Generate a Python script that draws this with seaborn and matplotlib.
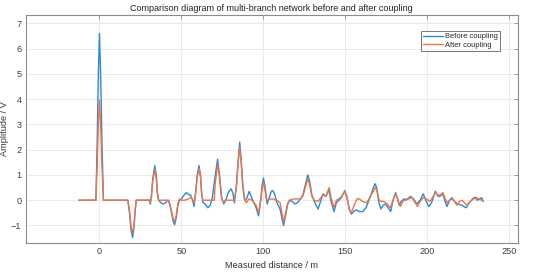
import numpy as np
import pandas as pd
import seaborn as sns
import matplotlib
matplotlib.use("Agg")
import matplotlib.pyplot as plt

# ---------------- data ----------------
before_x = [-12.5, -2.2, -1.4, -0.7, 0, 0.7, 1.5, 2.4, 17.3, 18.3, 19.3, 20.2, 21.0, 21.8, 22.4,
            30.6, 31.0, 31.6, 32.4, 33.7, 34.6, 35.3, 36.0, 37.5, 39.0, 40.5, 41.5, 42.3, 43.5,
            44.8, 45.8, 46.8, 47.8, 48.8, 50.0, 51.5, 53.0, 54.5, 55.6, 56.8, 57.7, 58.6, 59.6,
            60.7, 61.6, 62.4, 63.1, 64.5, 66.1, 67.5, 68.8, 70.2, 72.0, 73.2, 74.5, 75.8, 77.0,
            78.5, 80.2, 81.3, 82.3, 83.5, 84.6, 85.5, 86.4, 87.4, 88.5, 89.6, 91.3, 92.5, 93.8,
            95.5, 97.0, 98.3, 99.2, 100.0, 100.9, 102.2, 103.5, 104.8, 105.8, 107.0, 108.2,
            110.1, 111.2, 112.3, 113.5, 114.8, 116.0, 117.5, 119.2, 120.8, 122.5, 124.0, 125.5,
            127.0, 128.2, 129.5, 131.0, 133.3, 134.8, 136.3, 138.0, 139.2, 139.9, 141.0, 143.0,
            144.5, 146.0, 147.5, 149.6, 151.0, 152.3, 153.6, 155.0, 156.5, 158.5, 160.5, 162.5,
            164.0, 165.5, 167.0, 168.0, 169.0, 170.2, 171.6, 173.0, 174.5, 176.0, 177.6, 179.0,
            180.6, 182.0, 182.7, 184.0, 185.5, 187.0, 189.7, 191.5, 193.5, 195.5, 197.4, 199.0,
            200.8, 202.5, 204.8, 206.5, 207.5, 209.3, 210.5, 211.9, 213.5, 214.9, 216.5, 218.5,
            221.0, 223.6, 225.5, 227.5, 228.9, 230.5, 232.0, 233.0, 234.0]
before_y = [0, 0, 2.3, 5.0, 6.6, 5.0, 2.3, 0, 0, -0.5, -1.2, -1.48, -1.1, -0.4, 0,
            0, -0.15, 0.1, 0.8, 1.37, 1.0, 0.3, 0, -0.1, -0.15, -0.1, 0.0, -0.05, -0.35,
            -0.8, -0.97, -0.7, -0.2, 0.0, 0.05, 0.2, 0.3, 0.22, 0.2, 0.0, -0.25, 0.3, 1.0,
            1.37, 1.0, 0.2, -0.1, -0.15, -0.3, -0.2, 0.1, 0.8, 1.62, 1.0, 0.1, -0.15, 0.0,
            0.3, 0.45, 0.3, -0.1, 0.6, 1.6, 2.3, 1.6, 0.6, 0.0, 0.05, 0.35, 0.15, -0.05,
            -0.3, -0.62, 0.0, 0.6, 0.88, 0.55, -0.15, 0.1, 0.35, 0.38, 0.2, -0.1,
            -0.35, -0.7, -1.0, -0.6, -0.15, 0.0, -0.05, -0.15, -0.1, 0.05, 0.2, 0.6,
            1.0, 0.75, 0.2, -0.05, -0.35, -0.05, 0.25, 0.15, 0.3, 0.45, 0.0, -0.45,
            -0.1, 0.0, 0.1, 0.38, 0.1, -0.35, -0.55, -0.45, -0.38, -0.45, -0.45, -0.3,
            -0.05, 0.2, 0.5, 0.65, 0.5, -0.05, -0.35, -0.2, -0.15, -0.3, -0.45, 0.0,
            0.3, 0.0, -0.2, -0.05, 0.05, 0.0, 0.15, 0.05, -0.15, 0.0, 0.25, 0.0,
            -0.25, -0.1, 0.35, 0.15, 0.15, 0.25, 0.0, -0.25, 0.0, 0.1, -0.05, -0.15,
            -0.2, -0.3, -0.1, 0.05, 0.12, 0.0, 0.05, 0.1, -0.05]

after_x = [-12.5, -2.2, -1.4, -0.7, 0, 0.7, 1.5, 2.4, 17.3, 18.3, 19.3, 20.2, 21.0, 21.8, 22.4,
           30.6, 31.0, 31.6, 32.4, 33.7, 34.6, 35.3, 36.0, 42.3, 43.5, 44.8, 45.8, 46.8, 47.8,
           48.8, 50.0, 52.0, 54.0, 56.0, 57.0, 57.7, 58.6, 59.6, 60.7, 61.6, 62.4, 63.1, 70.0,
           70.5, 72.0, 73.2, 74.5, 75.8, 76.5, 82.3, 83.5, 84.6, 85.5, 86.4, 87.4, 88.5, 89.6,
           91.0, 93.0, 95.5, 97.0, 98.3, 99.2, 100.0, 100.9, 102.0, 104.0, 106.0, 108.0, 110.1,
           111.2, 112.3, 113.5, 114.8, 116.0, 118.0, 120.5, 122.5, 124.0, 125.5, 127.0, 128.2,
           129.5, 131.0, 133.3, 135.0, 136.5, 138.0, 139.2, 140.0, 141.2, 143.0, 144.5, 146.0,
           147.5, 149.6, 151.0, 152.3, 153.6, 155.0, 157.0, 158.5, 160.5, 162.5, 164.0, 165.5,
           167.0, 168.3, 169.3, 170.5, 172.0, 173.5, 175.5, 177.3, 179.0, 180.8, 182.0, 183.5,
           185.0, 186.5, 188.5, 190.5, 192.0, 194.0, 195.5, 197.5, 199.5, 201.5, 203.0, 205.0,
           206.5, 207.5, 209.5, 210.5, 212.0, 213.5, 215.0, 216.5, 218.0, 219.5, 221.0, 222.5,
           224.0, 226.0, 228.0, 230.0, 231.5, 233.0, 234.0]
after_y = [0, 0, 1.4, 3.0, 3.95, 3.0, 1.4, 0, 0, -0.4, -1.05, -1.3, -1.0, -0.35, 0,
           0, -0.1, 0.1, 0.7, 1.2, 0.9, 0.25, 0, 0, -0.3, -0.7, -0.85, -0.6, -0.15,
           0.05, 0.0, 0.0, 0.05, 0.1, 0.0, -0.1, 0.25, 0.9, 1.25, 0.9, 0.15, 0.0, 0.0,
           0.6, 1.42, 0.9, 0.05, -0.1, 0.0, 0.0, 0.5, 1.5, 2.1, 1.5, 0.5, 0.05, -0.1,
           0.05, 0.0, -0.2, -0.5, 0.0, 0.45, 0.7, 0.4, 0.0, 0.05, 0.05, 0.0, -0.1,
           -0.5, -0.85, -0.5, -0.1, 0.0, 0.05, 0.05, 0.05, 0.15, 0.5, 0.85, 0.6,
           0.15, 0.0, -0.05, 0.1, 0.2, 0.15, 0.35, 0.5, 0.1, -0.3, 0.0, 0.05,
           0.15, 0.35, 0.05, -0.35, -0.5, -0.25, 0.05, 0.05, -0.05, -0.1, 0.0, 0.2,
           0.35, 0.5, 0.35, 0.0, -0.05, -0.05, -0.15, -0.3, 0.0, 0.25, 0.0, -0.25,
           -0.05, 0.05, 0.05, 0.1, -0.05, -0.25, -0.05, 0.1, 0.05, -0.05, 0.1, 0.3,
           0.2, 0.2, 0.3, 0.1, -0.1, 0.0, 0.05, -0.05, -0.2, -0.05, 0.0, -0.1,
           -0.2, -0.05, 0.05, 0.1, 0.05, 0.0, -0.05]

series_names = ["Before coupling", "After coupling"]
series_colors = ["#2a8ad6", "#ee7445"]

x_ticks = [0, 50, 100, 150, 200, 250]
y_ticks = [-1, 0, 1, 2, 3, 4, 5, 6, 7]

title = "Comparison diagram of multi-branch network before and after coupling"
x_label = "Measured distance / m"
y_label = "Amplitude / V"

# ---------------- plot ----------------
sns.set_theme(style="white")
plt.rcParams["font.family"] = ["Liberation Sans", "DejaVu Sans"]

df = pd.concat([
    pd.DataFrame({"x": before_x, "y": before_y, "series": series_names[0]}),
    pd.DataFrame({"x": after_x, "y": after_y, "series": series_names[1]}),
], ignore_index=True)

fig = plt.figure(figsize=(5.5, 2.72), dpi=100)
ax = fig.add_axes([0.0467, 0.106, 0.8945, 0.839])

sns.lineplot(data=df, x="x", y="y", hue="series", palette=series_colors,
             estimator=None, sort=False, linewidth=1.0, ax=ax)

ax.set_xlim(-45, 255)
ax.set_ylim(-1.7, 7.33)
ax.set_xticks(x_ticks)
ax.set_yticks(y_ticks)
ax.grid(True, color="#e6e6e6", linewidth=0.6)
ax.set_axisbelow(True)
for s in ax.spines.values():
    s.set_color("#8c8c8c")
    s.set_linewidth(0.8)
ax.tick_params(direction="in", length=3, width=0.6, color="#8c8c8c",
               labelsize=6.6, labelcolor="#404040", top=True, right=True, pad=3)
ax.set_title(title, fontsize=6.5, color="#222222", pad=3)
ax.set_xlabel(x_label, fontsize=6.6, color="#333333", labelpad=3)
ax.set_ylabel(y_label, fontsize=6.6, color="#333333")
ax.yaxis.set_label_coords(-0.033, 0.5)

leg = ax.legend(loc="upper right", bbox_to_anchor=(0.964, 0.93), fontsize=5.4,
                frameon=True, fancybox=False, handlelength=2.6, handletextpad=0.3,
                borderpad=0.3, labelspacing=0.15, borderaxespad=0.0)
leg.get_frame().set_edgecolor("#555555")
leg.get_frame().set_linewidth(0.7)

fig.savefig("out.png", dpi=100)
